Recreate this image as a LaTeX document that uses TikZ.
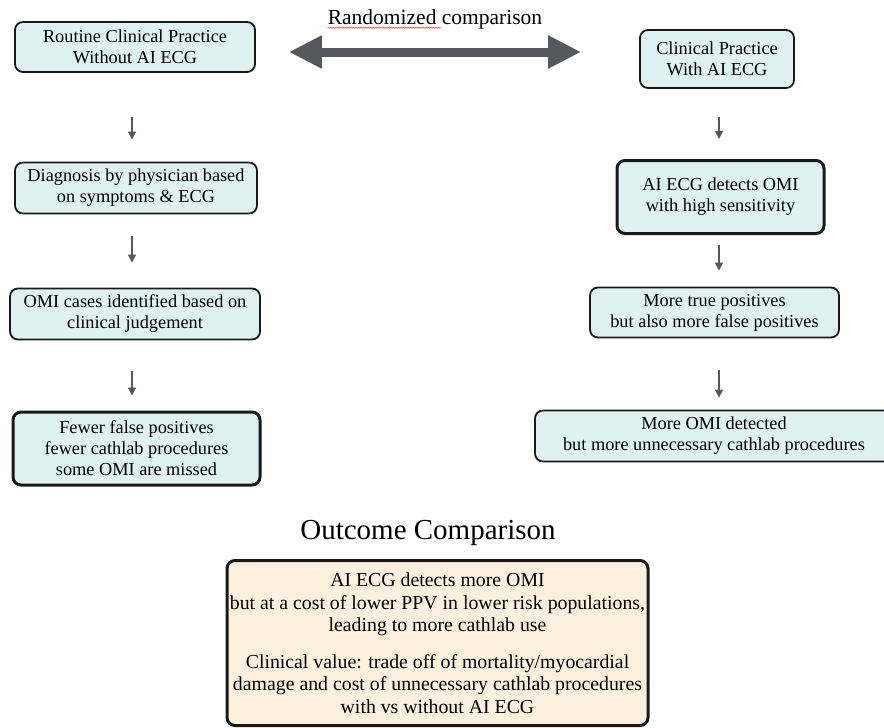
\documentclass[tikz,border=0pt]{standalone}
\usepackage{fontspec}
\setmainfont{LiberationSerif}[Extension=.ttf, UprightFont=*-Regular, BoldFont=*-Bold, ItalicFont=*-Italic, BoldItalicFont=*-BoldItalic]
\usepackage{tikz}
\usetikzlibrary{calc}
\usetikzlibrary{arrows.meta}
\usetikzlibrary{decorations.pathmorphing}
\definecolor{boxcyan}{HTML}{DFF1F1}
\definecolor{boxpeach}{HTML}{FDF1DE}
\definecolor{arrowgray}{HTML}{55595F}
\newcommand{\boxfont}{\fontsize{18.3}{21}\selectfont}

\begin{document}
\begin{tikzpicture}[x=1pt, y=-1pt,
		stepbox/.style={draw=black!90, line width=1.8pt, rounded corners=8pt, fill=boxcyan,
			align=center, inner sep=0pt, font=\boxfont},
		keybox/.style={stepbox, line width=3pt},
		flow/.style={draw=arrowgray, line width=1.4pt, -{Triangle[length=8pt,width=8pt]}}]
			\useasboundingbox (0,0) rectangle (884,728);
			\clip (0,0) rectangle (884,728);
			\coordinate (lx) at (132,0);
			\coordinate (rx) at (719,0);
			\coordinate (mid) at (0,52);
			
			% left column
			\node[stepbox, minimum width=240pt, minimum height=50pt] (routine) at (135,47) {Routine Clinical Practice\\Without AI ECG};
			\node[stepbox, minimum width=242pt, minimum height=51pt] (diag) at (136,188) {Diagnosis by physician based\\on symptoms \& ECG};
			\node[stepbox, minimum width=250pt, minimum height=51pt] (judge) at (135,314) {OMI cases identified based on\\clinical judgement};
			\node[keybox, minimum width=247pt, minimum height=73pt] (fewer) at (136.5,448.5) {Fewer false positives\\fewer cathlab procedures\\some OMI are missed};
			
			% right column
			\node[stepbox, minimum width=154pt, minimum height=58pt] (withai) at (717,59) {Clinical Practice\\With AI ECG};
			\node[keybox, minimum width=207pt, minimum height=73pt] (detect) at (720.5,197) {AI ECG detects OMI\\with high sensitivity};
			\node[stepbox, minimum width=249pt, minimum height=50pt] (truepos) at (714.5,312.5) {More true positives\\but also more false positives};
			\node[stepbox, minimum width=358pt, minimum height=51pt] (moreomi) at (714,436) {More OMI detected\\but more unnecessary cathlab procedures};
			
			% titles
			\node[font=\fontsize{21.5}{24}\selectfont, inner sep=0pt] (title) at (435,19) {Randomized comparison};
			\draw[red!80, line width=0.5pt, decorate, decoration={snake, amplitude=0.7pt, segment length=2.5pt}]
				([yshift=-3.5pt]title.base west) -- ++(113,0);
			\node[font=\fontsize{29}{32}\selectfont, inner sep=0pt] (outtitle) at (428,533) {Outcome Comparison};
			\node[keybox, fill=boxpeach, minimum width=421pt, minimum height=165pt, font=\fontsize{19.8}{22.5}\selectfont] (outcome) at (437.5,643) {AI ECG detects more OMI\\but at a cost of lower PPV in lower risk populations,\\leading to more cathlab use\\[14pt]Clinical value: trade off of mortality/myocardial\\damage and cost of unnecessary cathlab procedures\\with vs without AI ECG};
			
			% randomization arrow
			\draw[draw=arrowgray, line width=9pt,
				{Triangle[length=33pt,width=31pt]}-{Triangle[length=33pt,width=31pt]},
				shorten <=33pt, shorten >=58pt] (routine.east |- mid) -- (withai.west |- mid);
			
			% flow arrows
			\draw[flow, shorten <=44pt, shorten >=22pt] (routine.south -| lx) -- (diag.north -| lx);
			\draw[flow, shorten <=22pt, shorten >=25pt] (diag.south -| lx) -- (judge.north -| lx);
			\draw[flow, shorten <=31pt, shorten >=15pt] (judge.south -| lx) -- (fewer.north -| lx);
			\draw[flow, shorten <=28pt, shorten >=20pt] (withai.south -| rx) -- (detect.north -| rx);
			\draw[flow, shorten <=10pt, shorten >=16pt] (detect.south -| rx) -- (truepos.north -| rx);
			\draw[flow, shorten <=32pt, shorten >=12pt] (truepos.south -| rx) -- (moreomi.north -| rx);
		\end{tikzpicture}
\end{document}
